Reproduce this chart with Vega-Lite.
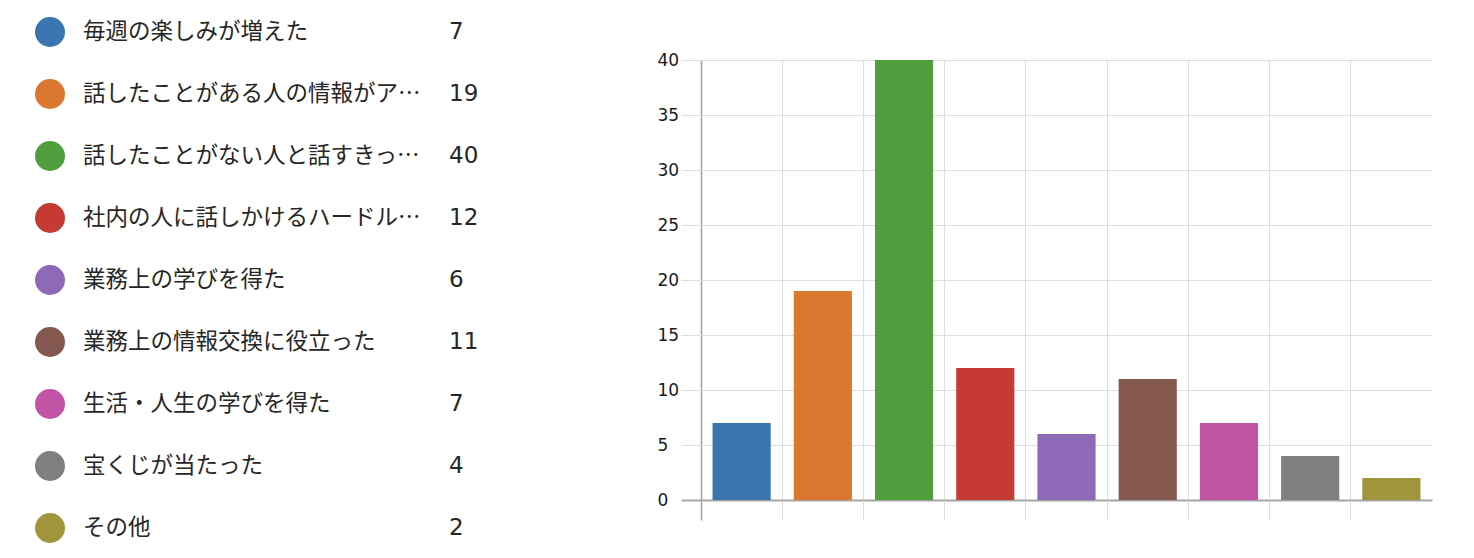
{
  "$schema": "https://vega.github.io/schema/vega-lite/v6.json",
  "autosize": "none",
  "width": 731,
  "height": 440,
  "padding": {"left": 701, "top": 60, "right": 42, "bottom": 58},
  "background": "white",
  "config": {"view": {"stroke": null}},
  "data": {
    "values": [
      {"item": "毎週の楽しみが増えた", "count": 7},
      {"item": "話したことがある人の情報がア…", "count": 19},
      {"item": "話したことがない人と話すきっ…", "count": 40},
      {"item": "社内の人に話しかけるハードル…", "count": 12},
      {"item": "業務上の学びを得た", "count": 6},
      {"item": "業務上の情報交換に役立った", "count": 11},
      {"item": "生活・人生の学びを得た", "count": 7},
      {"item": "宝くじが当たった", "count": 4},
      {"item": "その他", "count": 2}
    ]
  },
  "layer": [
    {
      "mark": {"type": "bar", "width": {"band": 0.716}},
      "encoding": {
        "x": {
          "field": "item",
          "type": "nominal",
          "sort": null,
          "scale": {"paddingInner": 0, "paddingOuter": 0},
          "axis": {
            "title": null,
            "labels": false,
            "domain": false,
            "grid": true,
            "bandPosition": 0,
            "ticks": true,
            "tickSize": 20,
            "tickColor": {"condition": {"test": "datum.value === '毎週の楽しみが増えた'", "value": "#a0a0a0"}, "value": "#dddddd"},
            "tickWidth": {"condition": {"test": "datum.value === '毎週の楽しみが増えた'", "value": 1.5}, "value": 1},
            "gridColor": {"condition": {"test": "datum.value === '毎週の楽しみが増えた'", "value": "#a0a0a0"}, "value": "#dddddd"},
            "gridWidth": {"condition": {"test": "datum.value === '毎週の楽しみが増えた'", "value": 1.5}, "value": 1}
          }
        },
        "y": {
          "field": "count",
          "type": "quantitative",
          "scale": {"domain": [0, 40], "nice": false},
          "axis": {
            "title": null,
            "values": [0, 5, 10, 15, 20, 25, 30, 35, 40],
            "domain": false,
            "grid": true,
            "gridColor": {"condition": {"test": "datum.value === 0", "value": "#a6a6a6"}, "value": "#dddddd"},
            "gridWidth": {"condition": {"test": "datum.value === 0", "value": 2}, "value": 1},
            "tickSize": 20,
            "tickColor": {"condition": {"test": "datum.value === 0", "value": "#a6a6a6"}, "value": "#dddddd"},
            "tickWidth": {"condition": {"test": "datum.value === 0", "value": 2}, "value": 1},
            "labelAlign": "left",
            "labelPadding": 24,
            "labelFont": "DejaVu Sans",
            "labelFontSize": 17,
            "labelColor": "#1a1a1a"
          }
        },
        "color": {
          "field": "item",
          "type": "nominal",
          "sort": null,
          "scale": {"range": ["#3a75af", "#dc772f", "#519e3e", "#c53a32", "#8d69b8", "#84584e", "#c154a4", "#7f7f7f", "#a0953a"]},
          "legend": null
        }
      }
    },
    {
      "encoding": {
        "y": {
          "field": "item",
          "type": "nominal",
          "sort": null,
          "scale": {"range": [-59, 499], "paddingInner": 0, "paddingOuter": 0},
          "axis": null
        }
      },
      "layer": [
        {
          "mark": {"type": "point", "shape": "circle", "filled": true, "size": 900, "opacity": 1},
          "encoding": {
            "x": {"value": -651},
            "color": {"field": "item", "type": "nominal", "sort": null, "legend": null}
          }
        },
        {
          "mark": {"type": "text", "align": "left", "baseline": "middle", "font": "Noto Sans CJK JP", "fontSize": 22.5, "color": "#262626"},
          "encoding": {
            "x": {"value": -618},
            "text": {"field": "item"}
          }
        },
        {
          "mark": {"type": "text", "align": "left", "baseline": "middle", "font": "DejaVu Sans", "fontSize": 23, "color": "#262626"},
          "encoding": {
            "x": {"value": -252},
            "text": {"field": "count", "type": "quantitative"}
          }
        }
      ]
    }
  ],
  "resolve": {"scale": {"y": "independent"}}
}
